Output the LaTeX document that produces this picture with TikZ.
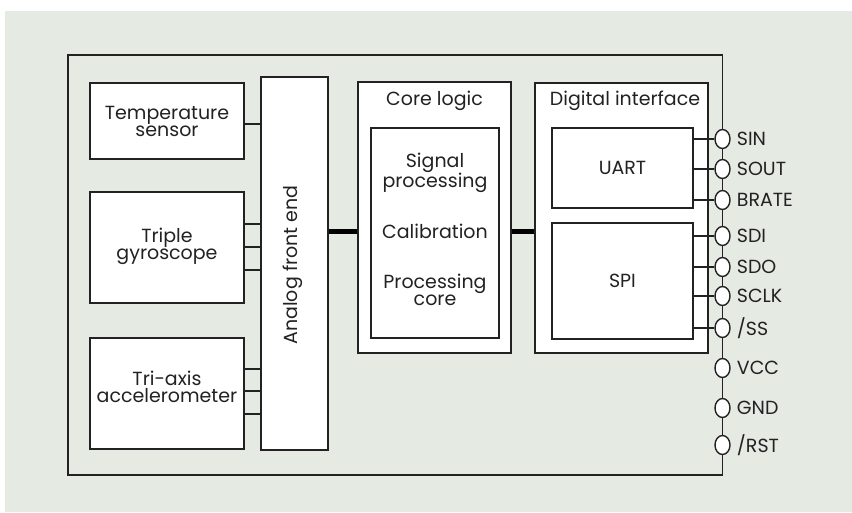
\documentclass[tikz,border=0pt]{standalone}
\usepackage{fontspec}
\setmainfont{Poppins}
\usetikzlibrary{shapes.geometric}
\definecolor{bgcol}{HTML}{E5EAE3}
\definecolor{inkcol}{HTML}{222222}
\begin{document}
\begin{tikzpicture}[x=1pt,y=-1pt,
  box/.style={draw=inkcol, line width=1.4pt, fill=white, inner sep=0pt},
  txt/.style={text=inkcol, font=\fontsize{19}{17}\selectfont, align=center, inner sep=0pt},
  pinmark/.style={ellipse, draw=inkcol, line width=1.4pt, fill=white,
    minimum width=15pt, minimum height=19pt, inner sep=0pt},
  pinname/.style={txt, anchor=west, xshift=6pt},
  wire/.style={draw=inkcol, line width=1.4pt},
  bus/.style={draw=black, line width=5pt}]
\useasboundingbox (0,0) rectangle (852,512);
\fill[bgcol] (5,11) rectangle (852,512);

% chip outline (right edge carries the pins)
\node[box, fill=none, minimum width=654.5pt, minimum height=420pt] (chip) at (395.25,265) {};

% sensors
\node[box, minimum width=154pt, minimum height=76pt] (temp) at (167,121) {};
\node[txt] (temptxt) at (167,121) {Temperature\\sensor};
\node[box, minimum width=154pt, minimum height=111pt] (gyro) at (167,247.5) {};
\node[txt] (gyrotxt) at (167,246) {Triple\\gyroscope};
\node[box, minimum width=154pt, minimum height=111pt] (accel) at (167,393.5) {};
\node[txt] (acceltxt) at (167,387) {Tri-axis\\accelerometer};

% analog front end
\node[box, minimum width=67pt, minimum height=373pt] (afe) at (294.5,263.5) {};
\node[txt, rotate=90] (afetxt) at (293,265) {Analog front end};

% core logic
\node[box, minimum width=153pt, minimum height=271pt] (core) at (434.5,217.5) {};
\node[txt] (coretitle) at (434.5,101) {Core logic};
\node[box, minimum width=128pt, minimum height=210pt] (proc) at (435,233) {};
\node[txt] (sigtxt) at (435,173) {Signal\\processing};
\node[txt] (caltxt) at (435,231) {Calibration};
\node[txt] (pctxt) at (435,290) {Processing\\core};

% digital interface
\node[box, minimum width=173pt, minimum height=270pt] (digi) at (621.5,218) {};
\node[txt] (digititle) at (625,101) {Digital interface};
\node[box, minimum width=141pt, minimum height=80pt] (uart) at (622.5,168) {};
\node[txt] (uarttxt) at (622.5,168) {UART};
\node[box, minimum width=141pt, minimum height=116pt] (spi) at (622.5,281) {};
\node[txt] (spitxt) at (622.5,281) {SPI};

% sensor to front end wires
\draw[wire] (temp.east |- 0,124) -- (afe.west |- 0,124);
\foreach \yy in {224,247,270}
  \draw[wire] (gyro.east |- 0,\yy) -- (afe.west |- 0,\yy);
\foreach \yy in {369,391,414}
  \draw[wire] (accel.east |- 0,\yy) -- (afe.west |- 0,\yy);

% buses
\draw[bus] (afe.east |- 0,231) -- (core.west |- 0,231);
\draw[bus] (core.east |- 0,231) -- (digi.west |- 0,231);

% pins
\foreach \nm/\yy/\lb in {sin/139/SIN, sout/169/SOUT, brate/200/BRATE, sdi/236/SDI,
    sdo/267/SDO, sclk/296/SCLK, ss/328/{/SS}, vcc/368/VCC, gnd/408/GND, rst/445/{/RST}} {
  \node[pinmark] (p\nm) at (722.5,\yy) {};
  \node[pinname] (l\nm) at (p\nm.east) {\lb};
}

% interface to pin wires
\foreach \nm in {sin,sout,brate}
  \draw[wire] (uart.east |- p\nm) -- (p\nm.west);
\foreach \nm in {sdi,sdo,sclk,ss}
  \draw[wire] (spi.east |- p\nm) -- (p\nm.west);
\end{tikzpicture}
\end{document}
